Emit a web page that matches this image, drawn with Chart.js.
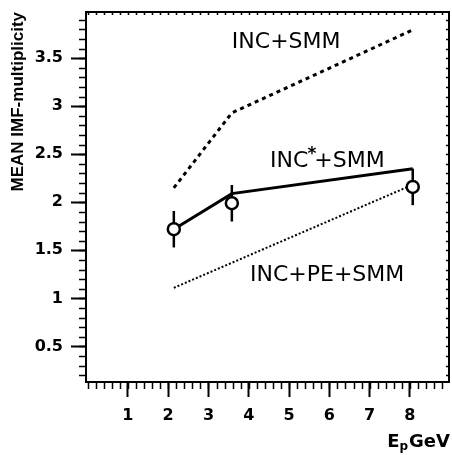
<!DOCTYPE html>
<html>
<head>
<meta charset="utf-8">
<script src="https://cdn.jsdelivr.net/npm/chart.js@4.4.0/dist/chart.umd.min.js"></script>
<style>
  html, body { margin: 0; padding: 0; background: #fff; }
</style>
</head>
<body>
<canvas id="chart" width="452" height="455"></canvas>
<script>
// measured points (beam energy in GeV)
const energies = [2.14, 3.58, 8.07];
const meanMult = [1.72, 1.99, 2.16];
const multErr = [0.19, 0.19, 0.19];

// model curves
const incSmmX = [2.14, 3.58, 8.05];
const incSmmY = [2.15, 2.93, 3.79];
const incStarX = [2.14, 3.58, 8.07];
const incStarY = [1.72, 2.09, 2.35];
const incPeX = [2.14, 8.0];
const incPeY = [1.11, 2.17];

const xTicks = [1, 2, 3, 4, 5, 6, 7, 8];
const yTicks = [0.5, 1, 1.5, 2, 2.5, 3, 3.5];

const toPoints = (xs, ys) => xs.map((x, i) => ({x: x, y: ys[i]}));

const tickFont = {family: 'DejaVu Sans', weight: 'bold', size: 16};

// error bars, under the circles
const errorBars = {
    id: 'errorBars',
    beforeDatasetsDraw(chart) {
        const ctx = chart.ctx, xs = chart.scales.x, ys = chart.scales.y;
        ctx.save();
        ctx.strokeStyle = '#000';
        ctx.lineWidth = 2.5;
        energies.forEach((e, i) => {
            const px = xs.getPixelForValue(e);
            ctx.beginPath();
            ctx.moveTo(px, ys.getPixelForValue(meanMult[i] - multErr[i]));
            ctx.lineTo(px, ys.getPixelForValue(meanMult[i] + multErr[i]));
            ctx.stroke();
        });
        ctx.restore();
    }
};

// frame, minor ticks, curve labels, x title with subscript
const decorations = {
    id: 'decorations',
    afterDraw(chart) {
        const ctx = chart.ctx, xs = chart.scales.x, ys = chart.scales.y, a = chart.chartArea;
        ctx.save();
        ctx.strokeStyle = '#000';

        ctx.lineWidth = 1.5;
        ctx.beginPath();
        for (let i = 0; i * 0.2 <= xs.max + 1e-9; i++) {
            const v = i * 0.2;
            if (v < xs.min) continue;
            const px = Math.round(xs.getPixelForValue(v)) + 0.5;
            ctx.moveTo(px, a.bottom);
            ctx.lineTo(px, a.bottom + 7);
            ctx.moveTo(px, a.top);
            ctx.lineTo(px, a.top + 3);
        }
        for (let i = 0; i * 0.1 <= ys.max + 1e-9; i++) {
            const v = i * 0.1;
            if (v < ys.min) continue;
            const py = Math.round(ys.getPixelForValue(v)) + 0.5;
            ctx.moveTo(a.left, py);
            ctx.lineTo(a.left - 7, py);
            ctx.moveTo(a.right, py);
            ctx.lineTo(a.right - 3, py);
        }
        ctx.stroke();

        ctx.lineWidth = 2;
        ctx.strokeRect(a.left, a.top, a.right - a.left, a.bottom - a.top);

        ctx.fillStyle = '#000';
        ctx.textBaseline = 'alphabetic';
        ctx.textAlign = 'left';
        const big = '22px "DejaVu Sans"';
        ctx.font = big;
        ctx.fillText('INC+SMM', xs.getPixelForValue(3.58), ys.getPixelForValue(3.61));
        ctx.fillText('INC+PE+SMM', xs.getPixelForValue(4.03), ys.getPixelForValue(1.18));
        let lx = xs.getPixelForValue(4.53);
        const ly = ys.getPixelForValue(2.37);
        ctx.fillText('INC', lx, ly);
        lx += ctx.measureText('INC').width;
        ctx.font = 'bold 17px "DejaVu Sans"';
        ctx.fillText('*', lx - 1, ly - 8);
        lx += ctx.measureText('*').width - 3;
        ctx.font = big;
        ctx.fillText('+SMM', lx, ly);

        // x title: E_p GeV, right aligned
        const bold = 'bold 18px "DejaVu Sans"';
        const sub = 'bold 12px "DejaVu Sans"';
        ctx.font = bold;
        const wE = ctx.measureText('E').width;
        const wG = ctx.measureText('GeV').width;
        ctx.font = sub;
        const wp = ctx.measureText('p').width;
        let tx = 450 - (wE + wp + wG + 1);
        const ty = 447;
        ctx.font = bold;
        ctx.fillText('E', tx, ty);
        tx += wE;
        ctx.font = sub;
        ctx.fillText('p', tx, ty + 3);
        tx += wp + 1;
        ctx.font = bold;
        ctx.fillText('GeV', tx, ty);
        ctx.restore();
    }
};

new Chart(document.getElementById('chart'), {
    type: 'line',
    data: {
        datasets: [
            {
                label: 'data',
                data: toPoints(energies, meanMult),
                showLine: false,
                pointRadius: 6,
                pointBorderWidth: 2.5,
                pointBorderColor: '#000',
                pointBackgroundColor: '#fff'
            },
            {
                label: 'INC*+SMM',
                data: toPoints(incStarX, incStarY),
                borderColor: '#000',
                borderWidth: 3,
                pointRadius: 0
            },
            {
                label: 'INC+SMM',
                data: toPoints(incSmmX, incSmmY),
                borderColor: '#000',
                borderWidth: 3,
                borderDash: [4, 4],
                pointRadius: 0
            },
            {
                label: 'INC+PE+SMM',
                data: toPoints(incPeX, incPeY),
                borderColor: '#000',
                borderWidth: 2,
                borderDash: [2, 2],
                pointRadius: 0
            }
        ]
    },
    options: {
        responsive: false,
        animation: false,
        devicePixelRatio: 1,
        layout: {autoPadding: false, padding: {top: 12, right: 3, left: 0, bottom: 0}},
        plugins: {
            legend: {display: false},
            tooltip: {enabled: false}
        },
        scales: {
            x: {
                type: 'linear',
                min: -0.04,
                max: 8.97,
                border: {display: false},
                grid: {drawOnChartArea: false, tickLength: 15, tickWidth: 2, tickColor: '#000'},
                afterBuildTicks: s => { s.ticks = xTicks.map(v => ({value: v})); },
                afterFit: s => { s.height = 73; s.paddingLeft = 0; s.paddingRight = 0; },
                ticks: {color: '#000', font: tickFont, padding: 9, maxRotation: 0, callback: v => String(v)}
            },
            y: {
                type: 'linear',
                min: 0.13,
                max: 3.98,
                border: {display: false},
                grid: {drawOnChartArea: false, tickLength: 15, tickWidth: 2, tickColor: '#000'},
                afterBuildTicks: s => { s.ticks = yTicks.map(v => ({value: v})); },
                afterFit: s => { s.width = 86; s.paddingTop = 0; s.paddingBottom = 0; },
                ticks: {color: '#000', font: tickFont, padding: 8, callback: v => String(v)},
                title: {
                    display: true,
                    text: 'MEAN IMF-multiplicity',
                    align: 'end',
                    color: '#000',
                    font: {family: 'Liberation Sans', weight: 'bold', size: 17},
                    padding: {top: 8, bottom: 0}
                }
            }
        }
    },
    plugins: [errorBars, decorations]
});
</script>
</body>
</html>
